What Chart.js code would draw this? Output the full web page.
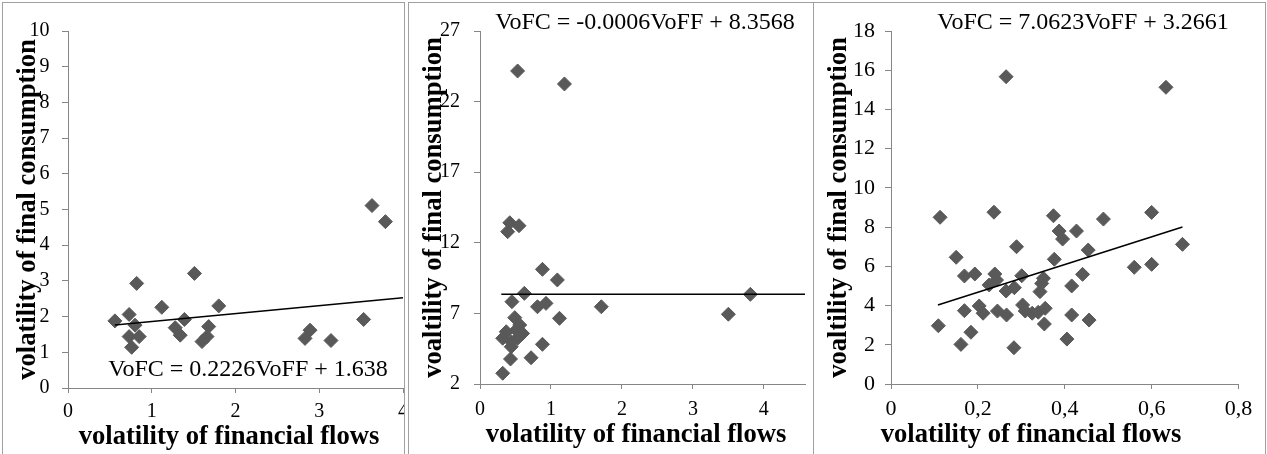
<!DOCTYPE html>
<html>
<head>
<meta charset="utf-8">
<script src="https://cdn.jsdelivr.net/npm/chart.js@4.4.1/dist/chart.umd.min.js"></script>
<style>
  html, body { margin: 0; padding: 0; background: #fff; }
  body { width: 1267px; height: 454px; position: relative; overflow: hidden; }
  .panel { position: absolute; top: 2px; height: 500px; border: 1px solid #a0a0a0; overflow: hidden; background: #fff; }
  .panel canvas { position: absolute; left: 0; top: 0; }
  .txt { position: absolute; white-space: nowrap; text-align: center; color: #000;
         font-family: "Liberation Serif", "Times New Roman", serif; }
  .eq { font-size: 24px; line-height: 24px; width: 440px; }
  .xt { font-size: 26.6px; line-height: 26px; font-weight: bold; width: 440px; }
</style>
</head>
<body>
<div class="panel" id="p1" style="left:2px; width:401px;"><canvas id="c1"></canvas></div>
<div class="panel" id="p2" style="left:408px; width:404px;"><canvas id="c2"></canvas></div>
<div class="panel" id="p3" style="left:813px; width:451px;"><canvas id="c3"></canvas></div>

<div class="txt eq" id="eq1" style="left:28px; top:355.6px;"></div>
<div class="txt eq" id="eq2" style="left:425px; top:9.2px;"></div>
<div class="txt eq" id="eq3" style="left:863px; top:9.2px;"></div>

<div class="txt xt" id="xt1" style="left:9px; top:421.5px;"></div>
<div class="txt xt" id="xt2" style="left:416px; top:420.3px;"></div>
<div class="txt xt" id="xt3" style="left:811px; top:420.3px;"></div>

<script>
// ---- data -------------------------------------------------------------
const xTitle = 'volatility of financial flows';
const yTitles = ['volatility of final consumption', 'voaltility of final consumption', 'voaltility of final consumption'];

// panel 1
const flowVol1 = [0.56, 0.73, 0.82, 0.80, 0.73, 0.85, 0.76, 1.12, 1.28, 1.34, 1.39, 1.51, 1.60, 1.66, 1.68, 1.80, 2.83, 2.89, 3.14, 3.53, 3.63, 3.79];
const consVol1 = [1.88, 2.06, 2.93, 1.76, 1.44, 1.44, 1.14, 2.26, 1.69, 1.48, 1.92, 3.21, 1.30, 1.44, 1.72, 2.30, 1.39, 1.62, 1.33, 1.92, 5.11, 4.66];

// panel 2
const flowVol2 = [0.42, 0.55, 0.39, 0.53, 1.19, 0.88, 1.09, 0.625, 0.45, 0.81, 0.93, 1.12, 0.49, 0.56, 0.37, 0.51, 0.60, 0.32, 0.44, 0.53, 0.44, 0.88, 0.43, 0.72, 0.32, 1.71, 3.50, 3.81];
const consVol2 = [13.42, 13.21, 12.79, 24.17, 23.25, 10.12, 9.37, 8.42, 7.83, 7.47, 7.71, 6.65, 6.70, 6.18, 5.70, 5.82, 5.58, 5.24, 5.00, 5.24, 4.64, 4.81, 3.77, 3.86, 2.76, 7.47, 6.94, 8.35];

// panel 3
const flowVol3 = [0.109, 0.150, 0.161, 0.169, 0.169, 0.184, 0.193, 0.203, 0.212, 0.226, 0.239, 0.243, 0.245, 0.266, 0.265, 0.284, 0.289, 0.283, 0.301, 0.303, 0.309, 0.325, 0.339, 0.343, 0.347, 0.351, 0.355, 0.353, 0.376, 0.387, 0.395, 0.405, 0.416, 0.416, 0.427, 0.441, 0.454, 0.456, 0.560, 0.600, 0.671, 0.113, 0.237, 0.265, 0.374, 0.489, 0.600, 0.633];
const consVol3 = [2.97, 6.46, 2.02, 5.51, 3.74, 2.64, 5.61, 3.98, 3.61, 5.05, 5.61, 5.30, 3.72, 3.52, 4.74, 4.91, 7.00, 1.85, 5.52, 4.03, 3.72, 3.61, 3.66, 4.71, 5.13, 5.39, 3.86, 3.06, 6.36, 7.80, 7.39, 2.29, 5.00, 3.52, 7.80, 5.59, 6.83, 3.26, 5.95, 6.10, 7.12, 8.50, 8.76, 15.67, 8.58, 8.41, 8.75, 15.13];

// linear trend lines: VoFC = slope * VoFF + intercept, drawn over [from, to]
const trendSlope = [0.2226, -0.0006, 7.0623];
const trendIntercept = [1.638, 8.3568, 3.2661];
const trendFrom = [0.56, 0.30, 0.108];
const trendTo = [4.0, 4.58, 0.671];

// axis ranges and tick labels
const xMin = [0, 0, 0], xMax = [4, 4.58, 0.8], xStep = [1, 1, 0.2];
const yMin = [0, 2, 0], yMax = [10, 27, 18], yStep = [1, 5, 2];
const xTickLabels = [['0', '1', '2', '3', '4'], ['0', '1', '2', '3', '4'], ['0', '0,2', '0,4', '0,6', '0,8']];

// ---- drawing ----------------------------------------------------------
const SERIF = '"Liberation Serif", "Times New Roman", serif';
const MARK = '#595959';
const AXIS = '#868686';

// per-panel geometry (canvas size, padding, tick styling)
const layoutCfg = [
  { w: 431, h: 450, pad: { left: 12, top: 28, right: 31, bottom: 25 }, yW: 53, xH: 40, tickFont: 20, yPad: 12.5, xPad: 8.5 },
  { w: 404, h: 450, pad: { left: 12, top: 28, right: 3, bottom: 29 }, yW: 59, xH: 40, tickFont: 20, yPad: 14, xPad: 10.5 },
  { w: 451, h: 450, pad: { left: 12, top: 28, right: 26.5, bottom: 29 }, yW: 65, xH: 40, tickFont: 22, yPad: 10, xPad: 9.5 }
];

const seriesX = [flowVol1, flowVol2, flowVol3];
const seriesY = [consVol1, consVol2, consVol3];

function makeChart(i) {
  const cfg = layoutCfg[i];
  const canvas = document.getElementById('c' + (i + 1));
  canvas.width = cfg.w; canvas.height = cfg.h;
  canvas.style.width = cfg.w + 'px'; canvas.style.height = cfg.h + 'px';

  const points = seriesX[i].map((x, k) => ({ x: x, y: seriesY[i][k] }));
  const trend = [trendFrom[i], trendTo[i]].map(x => ({ x: x, y: trendSlope[i] * x + trendIntercept[i] }));
  const labels = xTickLabels[i];

  new Chart(canvas, {
    type: 'scatter',
    data: {
      datasets: [
        { type: 'line', data: trend, borderColor: '#000', borderWidth: 1.5, pointRadius: 0, fill: false, tension: 0 },
        { data: points, pointStyle: 'rectRot', pointRadius: 7, pointHoverRadius: 7,
          backgroundColor: MARK, borderColor: MARK, borderWidth: 1 }
      ]
    },
    options: {
      responsive: false,
      animation: false,
      devicePixelRatio: 1,
      layout: { padding: cfg.pad },
      plugins: { legend: { display: false }, tooltip: { enabled: false }, title: { display: false } },
      scales: {
        x: {
          type: 'linear', position: 'bottom',
          min: xMin[i], max: xMax[i],
          afterFit: s => { s.height = cfg.xH; },
          border: { display: true, color: AXIS, width: 1 },
          grid: { display: true, drawOnChartArea: false, drawTicks: true, tickLength: 5, color: AXIS },
          ticks: {
            stepSize: xStep[i], includeBounds: false, maxRotation: 0, autoSkip: false,
            padding: cfg.xPad, color: '#000',
            font: { family: SERIF, size: cfg.tickFont, lineHeight: 1 },
            callback: (v, idx) => labels[idx]
          }
        },
        y: {
          type: 'linear', position: 'left',
          min: yMin[i], max: yMax[i],
          afterFit: s => { s.width = cfg.yW; },
          border: { display: true, color: AXIS, width: 1 },
          grid: { display: true, drawOnChartArea: false, drawTicks: true, tickLength: 6, color: AXIS },
          ticks: {
            stepSize: yStep[i], autoSkip: false, padding: cfg.yPad, color: '#000',
            font: { family: SERIF, size: cfg.tickFont, lineHeight: 1 }
          },
          title: {
            display: true, text: yTitles[i], color: '#000', padding: 0,
            font: { family: SERIF, size: 26.6, weight: 'bold', lineHeight: 1 }
          }
        }
      }
    }
  });

  document.getElementById('eq' + (i + 1)).textContent =
    'VoFC = ' + trendSlope[i] + 'VoFF + ' + trendIntercept[i];
  document.getElementById('xt' + (i + 1)).textContent = xTitle;
}

[0, 1, 2].forEach(makeChart);
</script>
</body>
</html>
